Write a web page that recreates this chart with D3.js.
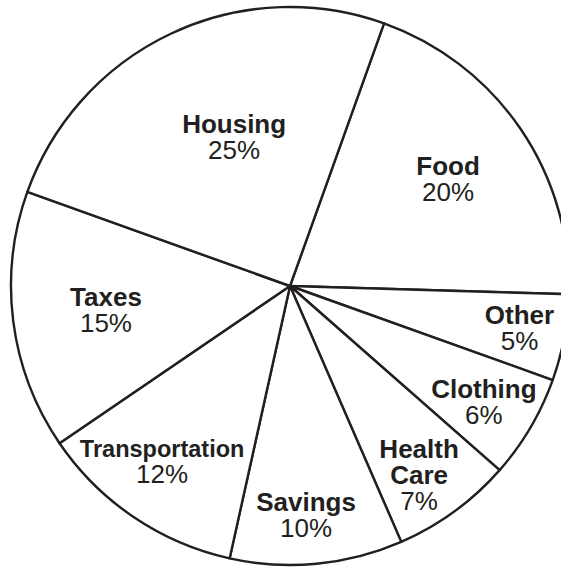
<!DOCTYPE html>
<html>
<head>
<meta charset="utf-8">
<script src="https://cdn.jsdelivr.net/npm/d3@7"></script>
<style>
  html, body { margin: 0; padding: 0; background: #fff; }
  svg { display: block; }
</style>
</head>
<body>
<svg id="chart" width="561" height="569"></svg>
<script>
// ---- data ----
const categories = ["Food", "Other", "Clothing", "Health Care", "Savings", "Transportation", "Taxes", "Housing"];
const percents = [20, 5, 6, 7, 10, 12, 15, 25];

// ---- layout (not data) ----
const W = 561, H = 569;
const cx = 290, cy = 286, R = 279;
const startDeg = 19.7;
const labelRadiusFrac = [0.685, 0.836, 0.809, 0.819, 0.823, 0.778, 0.665, 0.572];
const labelAngleNudge = [0.1, -0.45, 0.3, 1.7, 1.5, 2.0, 0.0, 4.8];
const nameFontSize = [26, 26, 26, 26, 26, 23.5, 26, 26];
const ink = "#231f20";
const fontSize = 26;
const lineGap = 26;

const svg = d3.select("#chart");
const g = svg.append("g").attr("transform", `translate(${cx},${cy})`);

const data = categories.map((c, i) => ({ name: c, value: percents[i] }));
const start = startDeg * Math.PI / 180;
const pie = d3.pie().sort(null).value(d => d.value)
  .startAngle(start).endAngle(start + 2 * Math.PI);
const arcs = pie(data);
const arc = d3.arc().innerRadius(0).outerRadius(R);

g.selectAll("path.slice")
  .data(arcs)
  .join("path")
  .attr("class", "slice")
  .attr("d", arc)
  .attr("fill", "#fff")
  .attr("stroke", ink)
  .attr("stroke-width", 2.4)
  .attr("stroke-linejoin", "round");

g.selectAll("text.lbl")
  .data(arcs)
  .join("text")
  .attr("class", "lbl")
  .attr("font-family", "'Liberation Sans', Arial, Helvetica, sans-serif")
  .attr("font-size", fontSize)
  .attr("fill", ink)
  .attr("text-anchor", "middle")
  .each(function (d, i) {
    const a = (d.startAngle + d.endAngle) / 2 + labelAngleNudge[i] * Math.PI / 180;
    const rr = R * labelRadiusFrac[i];
    const x = rr * Math.sin(a);
    const y = -rr * Math.cos(a);
    const lines = d.data.name.split(" ").map(s => ({ t: s, bold: true, fs: nameFontSize[i] }));
    lines.push({ t: d.data.value + "%", bold: false, fs: fontSize });
    const n = lines.length;
    const capH = 18;
    const firstBase = y - ((n - 1) * lineGap - capH) / 2;
    const t = d3.select(this);
    lines.forEach((ln, k) => {
      t.append("tspan")
        .attr("x", x)
        .attr("y", firstBase + k * lineGap)
        .attr("font-size", ln.fs)
        .attr("font-weight", ln.bold ? "bold" : "normal")
        .text(ln.t);
    });
  });
</script>
</body>
</html>
